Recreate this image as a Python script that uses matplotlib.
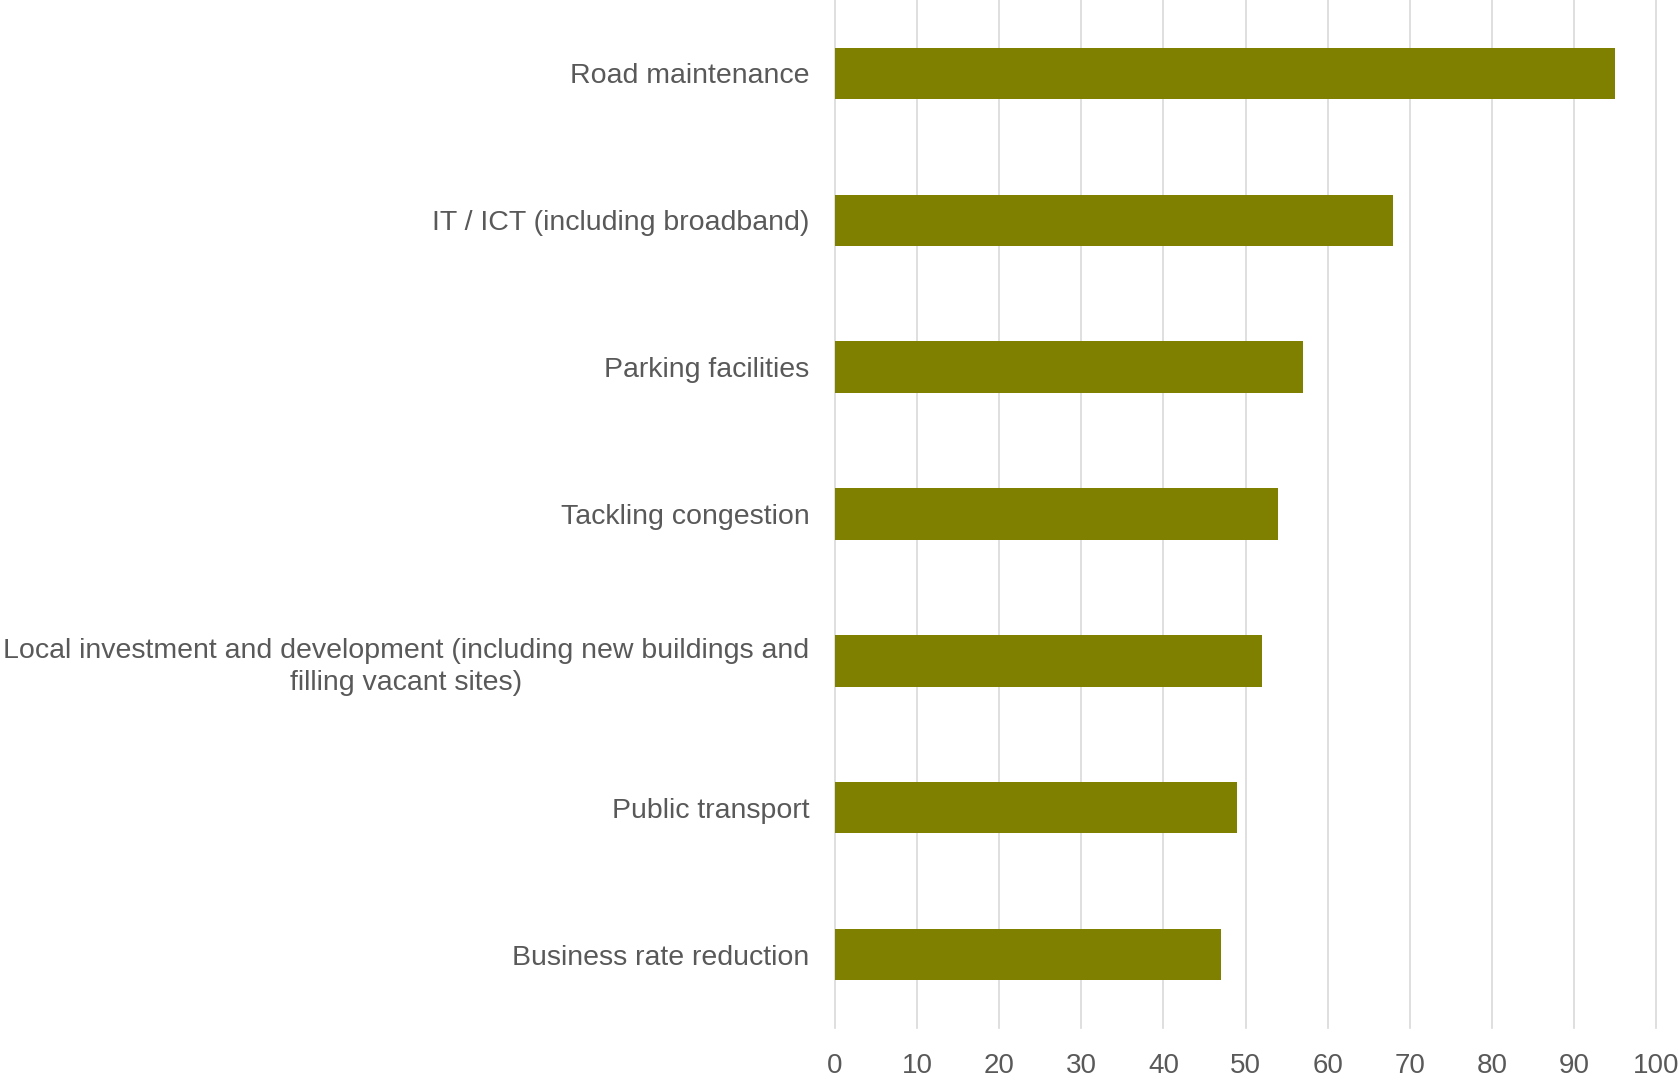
import matplotlib
matplotlib.use("Agg")
import matplotlib.pyplot as plt

categories = [
    "Road maintenance",
    "IT / ICT (including broadband)",
    "Parking facilities",
    "Tackling congestion",
    "Local investment and development (including new buildings and\nfilling vacant sites)",
    "Public transport",
    "Business rate reduction",
]
values = [95, 68, 57, 54, 52, 49, 47]
x_ticks = [0, 10, 20, 30, 40, 50, 60, 70, 80, 90, 100]

plt.rcParams['font.family'] = ['Liberation Sans', 'DejaVu Sans']

fig = plt.figure(figsize=(16.79, 10.80), dpi=100)
ax = fig.add_axes([835/1679, 52/1080, (1656-835)/1679, 1028/1080])

pos = list(range(len(categories)))
ax.barh(pos, values, height=0.35, color="#808000", zorder=3)
ax.set_ylim(len(categories) - 0.5, -0.5)
ax.set_xlim(0, 100)
ax.set_xticks(x_ticks)
ax.set_xticklabels([str(t) for t in x_ticks])
ax.set_yticks(pos)
ax.set_yticklabels(categories, multialignment='center', linespacing=1.3)

ax.grid(axis='x', color="#d9d9d9", linewidth=1.2, zorder=0)
ax.grid(axis='y', visible=False)
for gl in ax.get_xgridlines():
    gl.set_clip_on(False)
for s in ax.spines.values():
    s.set_visible(False)
ax.tick_params(axis='x', length=0, pad=18, labelsize=20, labelcolor="#595959")
ax.tick_params(axis='y', length=0, pad=18.5, labelsize=20.5, labelcolor="#595959")

fig.savefig("out.png", dpi=100, facecolor="white")
